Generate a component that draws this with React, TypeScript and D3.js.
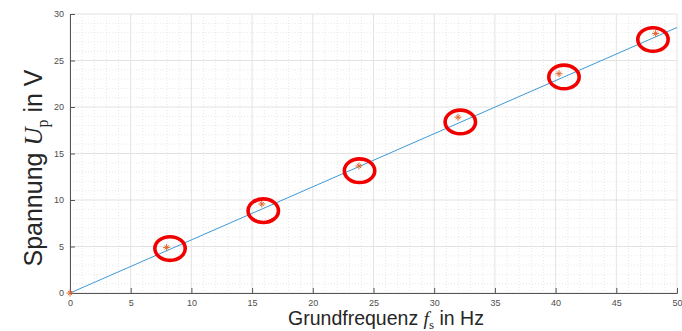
import { useEffect, useRef } from "react"
import * as d3 from "d3"

// measured points (Grundfrequenz in Hz, Spannung in V)
const freqs = [0, 7.96, 15.8, 23.8, 31.96, 40.28, 48.24]
const volts = [0, 4.9, 9.57, 13.66, 18.9, 23.58, 27.9]

// fitted line end points
const fitX = [0, 50]
const fitY = [0, 28.55]

// hand drawn red ellipses around the points
const ringX = [8.24, 15.92, 23.85, 32.15, 40.69, 48.02]
const ringY = [4.78, 8.85, 13.15, 18.39, 23.23, 27.26]

const xTicks = [0, 5, 10, 15, 20, 25, 30, 35, 40, 45, 50]
const yTicks = [0, 5, 10, 15, 20, 25, 30]

export default function App() {
  const svgRef = useRef<SVGSVGElement>(null)

  useEffect(() => {
    if (!svgRef.current) return
    const width = 682
    const height = 331
    const left = 70
    const right = 677
    const top = 14
    const bottom = 293

    const svg = d3.select(svgRef.current)
    svg.selectAll("*").remove()

    const x = d3.scaleLinear().domain([0, 50]).range([left, right])
    const y = d3.scaleLinear().domain([0, 30]).range([bottom, top])

    svg.append("rect").attr("width", width).attr("height", height).attr("fill", "#ffffff")

    // minor grid
    const g = svg.append("g")
    d3.range(0, 51, 1).filter((v) => v % 5 !== 0).forEach((v) => {
      g.append("line")
        .attr("x1", x(v)).attr("x2", x(v)).attr("y1", top).attr("y2", bottom)
        .attr("stroke", "#d6d6d6").attr("stroke-width", 0.6).attr("stroke-dasharray", "1,2")
    })
    d3.range(0, 31, 1).filter((v) => v % 5 !== 0).forEach((v) => {
      g.append("line")
        .attr("x1", left).attr("x2", right).attr("y1", y(v)).attr("y2", y(v))
        .attr("stroke", "#d6d6d6").attr("stroke-width", 0.6).attr("stroke-dasharray", "1,2")
    })
    // major grid
    xTicks.forEach((v) => {
      g.append("line")
        .attr("x1", x(v)).attr("x2", x(v)).attr("y1", top).attr("y2", bottom)
        .attr("stroke", "#e3e3e3").attr("stroke-width", 1)
    })
    yTicks.forEach((v) => {
      g.append("line")
        .attr("x1", left).attr("x2", right).attr("y1", y(v)).attr("y2", y(v))
        .attr("stroke", "#e3e3e3").attr("stroke-width", 1)
    })

    // axes
    const axisColor = "#555555"
    const ax = svg.append("g").attr("transform", `translate(0,${bottom})`)
      .call(d3.axisBottom(x).tickValues(xTicks).tickSize(-5).tickPadding(7).tickFormat(d3.format("d")))
    const ay = svg.append("g").attr("transform", `translate(${left},0)`)
      .call(d3.axisLeft(y).tickValues(yTicks).tickSize(-5).tickPadding(6).tickFormat(d3.format("d")))
    ;[ax, ay].forEach((a) => {
      a.select(".domain").attr("stroke", axisColor)
      a.selectAll(".tick line").attr("stroke", axisColor)
      a.selectAll("text")
        .attr("fill", "#4d4d4d")
        .attr("font-family", "Liberation Sans, Arial, sans-serif")
        .attr("font-size", "9px")
    })

    // fitted line
    const line = d3.line<number>().x((d) => x(fitX[d])).y((d) => y(fitY[d]))
    svg.append("path")
      .datum([0, 1])
      .attr("d", line)
      .attr("fill", "none")
      .attr("stroke", "#3d9ad8")
      .attr("stroke-width", 1)

    // star markers
    const ms = 3.5
    freqs.forEach((f, i) => {
      const cx = x(f)
      const cy = y(volts[i])
      const p = d3.path()
      p.moveTo(cx - ms, cy); p.lineTo(cx + ms, cy)
      p.moveTo(cx, cy - ms); p.lineTo(cx, cy + ms)
      p.moveTo(cx - ms * 0.6, cy - ms * 0.6); p.lineTo(cx + ms * 0.6, cy + ms * 0.6)
      p.moveTo(cx - ms * 0.6, cy + ms * 0.6); p.lineTo(cx + ms * 0.6, cy - ms * 0.6)
      svg.append("path").attr("d", p.toString()).attr("stroke", "#e2692f").attr("stroke-width", 1).attr("fill", "none")
    })

    // red ellipses
    ringX.forEach((rx, i) => {
      svg.append("ellipse")
        .attr("cx", x(rx))
        .attr("cy", y(ringY[i]))
        .attr("rx", 15.2)
        .attr("ry", 11.8)
        .attr("fill", "none")
        .attr("stroke", "#f20000")
        .attr("stroke-width", 3.6)
    })

    // x label
    const xl = svg.append("text")
      .attr("x", 386)
      .attr("y", 325)
      .attr("text-anchor", "middle")
      .attr("font-family", "Liberation Sans, Arial, sans-serif")
      .attr("font-size", "19.5px")
      .attr("fill", "#262626")
    xl.append("tspan").text("Grundfrequenz ")
    xl.append("tspan").attr("font-family", "Liberation Serif, Times New Roman, serif").attr("font-style", "italic").text("f")
    xl.append("tspan").attr("font-family", "Liberation Serif, Times New Roman, serif").attr("font-size", "13px").attr("dy", 4).text("s")
    xl.append("tspan").attr("dy", -4).text(" in Hz")

    // y label
    const yl = svg.append("text")
      .attr("transform", `translate(42,168) rotate(-90)`)
      .attr("text-anchor", "middle")
      .attr("font-family", "Liberation Sans, Arial, sans-serif")
      .attr("font-size", "25px")
      .attr("fill", "#262626")
    yl.append("tspan").text("Spannung ")
    yl.append("tspan").attr("font-family", "Liberation Serif, Times New Roman, serif").attr("font-style", "italic").text("U")
    yl.append("tspan").attr("font-family", "Liberation Serif, Times New Roman, serif").attr("font-size", "16px").attr("dy", 6).text("p")
    yl.append("tspan").attr("dy", -6).text(" in V")
  }, [])

  return (
    <div style={{ position: "absolute", left: 0, top: 0, width: "682px", height: "331px" }}>
      <svg ref={svgRef} width={682} height={331} style={{ display: "block" }} />
    </div>
  )
}
